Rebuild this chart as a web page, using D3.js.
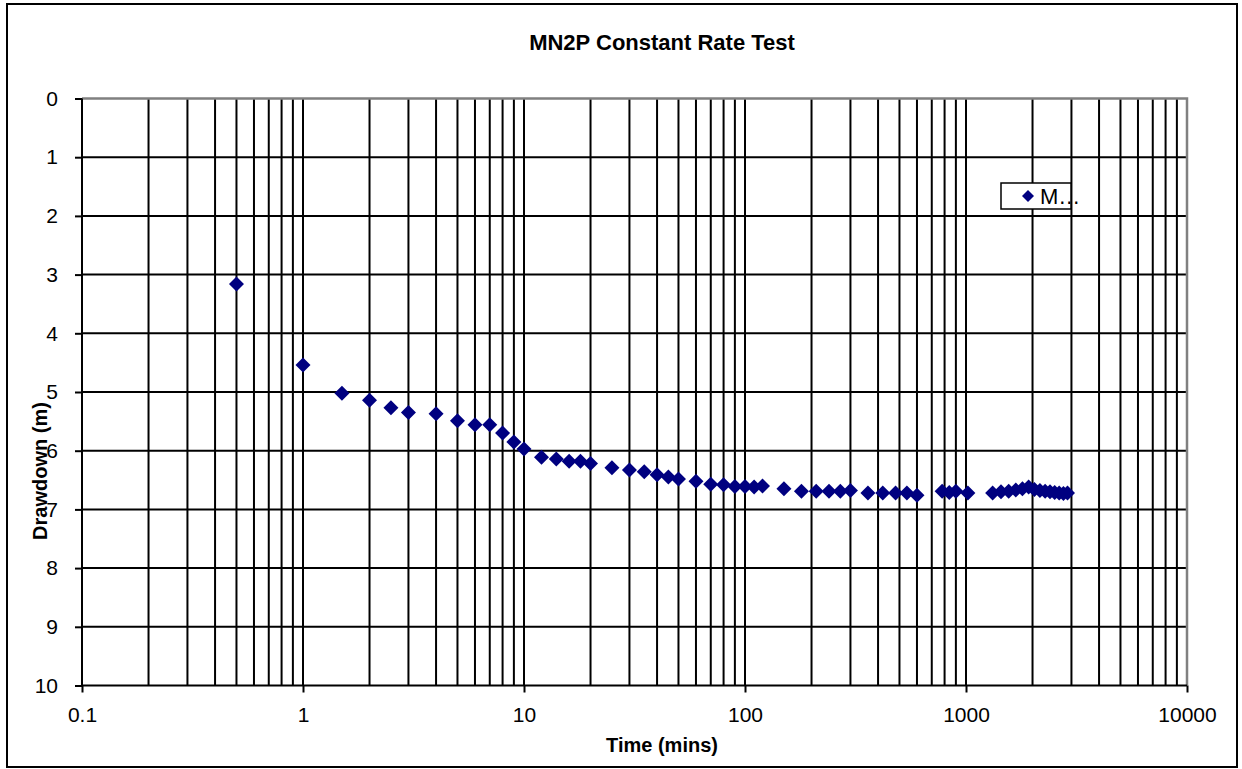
<!DOCTYPE html>
<html><head><meta charset="utf-8">
<script src="https://cdn.jsdelivr.net/npm/d3@7"></script>
<style>
html,body{margin:0;padding:0;background:#fff;}
svg{display:block;font-family:"Liberation Sans",Arial,sans-serif;}
</style></head>
<body>
<svg id="chart" width="1242" height="769"></svg>
<script>
const chartTitle = "MN2P Constant Rate Test";
const xTitle = "Time (mins)";
const yTitle = "Drawdown (m)";
const legendLabel = "M\u2026";
const timeMins = [0.5,1,1.5,2,2.5,3,4,5,6,7,8,9,10,12,14,16,18,20,25,30,35,40,45,50,60,70,80,90,100,110,120,150,180,210,240,270,300,360,420,480,540,600,780,840,900,1020,1320,1440,1560,1680,1800,1920,2040,2160,2280,2400,2520,2640,2760,2880];
const drawdown = [3.16,4.54,5.02,5.14,5.27,5.35,5.37,5.49,5.56,5.56,5.70,5.85,5.97,6.11,6.14,6.18,6.18,6.22,6.29,6.33,6.36,6.41,6.45,6.48,6.52,6.57,6.58,6.61,6.61,6.62,6.60,6.65,6.69,6.69,6.69,6.69,6.68,6.72,6.72,6.72,6.72,6.76,6.69,6.71,6.69,6.72,6.72,6.70,6.69,6.67,6.65,6.62,6.66,6.68,6.69,6.70,6.71,6.72,6.73,6.72];
const xTickValues = [0.1,1,10,100,1000,10000];
const xTickLabels = ["0.1","1","10","100","1000","10000"];
const yTickValues = [0,1,2,3,4,5,6,7,8,9,10];

const svg = d3.select("#chart");
const L = 82, R = 1187, T = 98.5, B = 685.5;
const x = d3.scaleLog().domain([0.1,10000]).range([L,R]);
const y = d3.scaleLinear().domain([0,10]).range([T,B]);

// outer border
svg.append("rect").attr("x",7).attr("y",4).attr("width",1230).attr("height",763)
  .attr("fill","#fff").attr("stroke","#000").attr("stroke-width",2);

// gridlines
const minorX = [];
for (let e=-1;e<4;e++) for (let m=1;m<10;m++) minorX.push(m*Math.pow(10,e));
const grid = svg.append("g");
grid.selectAll("line.vx").data(minorX.filter(v=>v>0.1 && v<10000)).enter().append("line")
  .attr("x1",d=>x(d)).attr("x2",d=>x(d)).attr("y1",T).attr("y2",B)
  .attr("stroke","#000").attr("stroke-width",2);
grid.selectAll("line.hy").data(yTickValues.filter(v=>v>0 && v<10)).enter().append("line")
  .attr("x1",L).attr("x2",R).attr("y1",d=>y(d)).attr("y2",d=>y(d))
  .attr("stroke","#000").attr("stroke-width",2);

// plot border top/right grey
svg.append("path").attr("d",`M${L},${T}H${R}V${B}`).attr("fill","none")
  .attr("stroke","#808080").attr("stroke-width",2.5);

// axes
const xAxis = d3.axisBottom(x).tickValues(xTickValues).tickSize(7).tickPadding(15)
  .tickFormat((d,i)=>xTickLabels[i]);
const gx = svg.append("g").attr("transform",`translate(0,${B})`).call(xAxis);
gx.select(".domain").attr("stroke","#000").attr("stroke-width",2).attr("d",`M${L},0H${R}`);
gx.selectAll(".tick line").attr("stroke","#000").attr("stroke-width",2);
gx.selectAll(".tick text").attr("font-size",21).attr("fill","#000")
  .attr("font-family","Liberation Sans, Arial, sans-serif");

const yAxis = d3.axisLeft(y).tickValues(yTickValues).tickSize(7).tickPadding(17).tickFormat(d3.format("d"));
const gy = svg.append("g").attr("transform",`translate(${L},0)`).call(yAxis);
gy.select(".domain").attr("stroke","#000").attr("stroke-width",2).attr("d",`M0,${T}V${B}`);
gy.selectAll(".tick line").attr("stroke","#000").attr("stroke-width",2);
gy.selectAll(".tick text").attr("font-size",21).attr("fill","#000")
  .attr("font-family","Liberation Sans, Arial, sans-serif");

// markers
const diamond = r => `M0,${-r}L${r},0L0,${r}L${-r},0Z`;
svg.append("g").selectAll("path").data(timeMins.map((t,i)=>[t,drawdown[i]])).enter().append("path")
  .attr("d",diamond(7.5)).attr("fill","#000080")
  .attr("transform",d=>`translate(${x(d[0])},${y(d[1])})`);

// titles
svg.append("text").attr("x",662).attr("y",50).attr("text-anchor","middle")
  .attr("font-size",22).attr("font-weight","bold").text(chartTitle);
svg.append("text").attr("x",662).attr("y",752).attr("text-anchor","middle")
  .attr("font-size",20).attr("font-weight","bold").text(xTitle);
svg.append("text").attr("transform","translate(47,471) rotate(-90)").attr("text-anchor","middle")
  .attr("font-size",20).attr("font-weight","bold").text(yTitle);

// legend
const lg = svg.append("g");
lg.append("rect").attr("x",1001).attr("y",183).attr("width",70).attr("height",26)
  .attr("fill","#fff").attr("stroke","#000").attr("stroke-width",1.5);
lg.append("path").attr("d",diamond(6)).attr("fill","#000080").attr("transform","translate(1028,196)");
lg.append("text").attr("x",1040).attr("y",204).attr("font-size",22).text(legendLabel);
</script>
</body></html>
